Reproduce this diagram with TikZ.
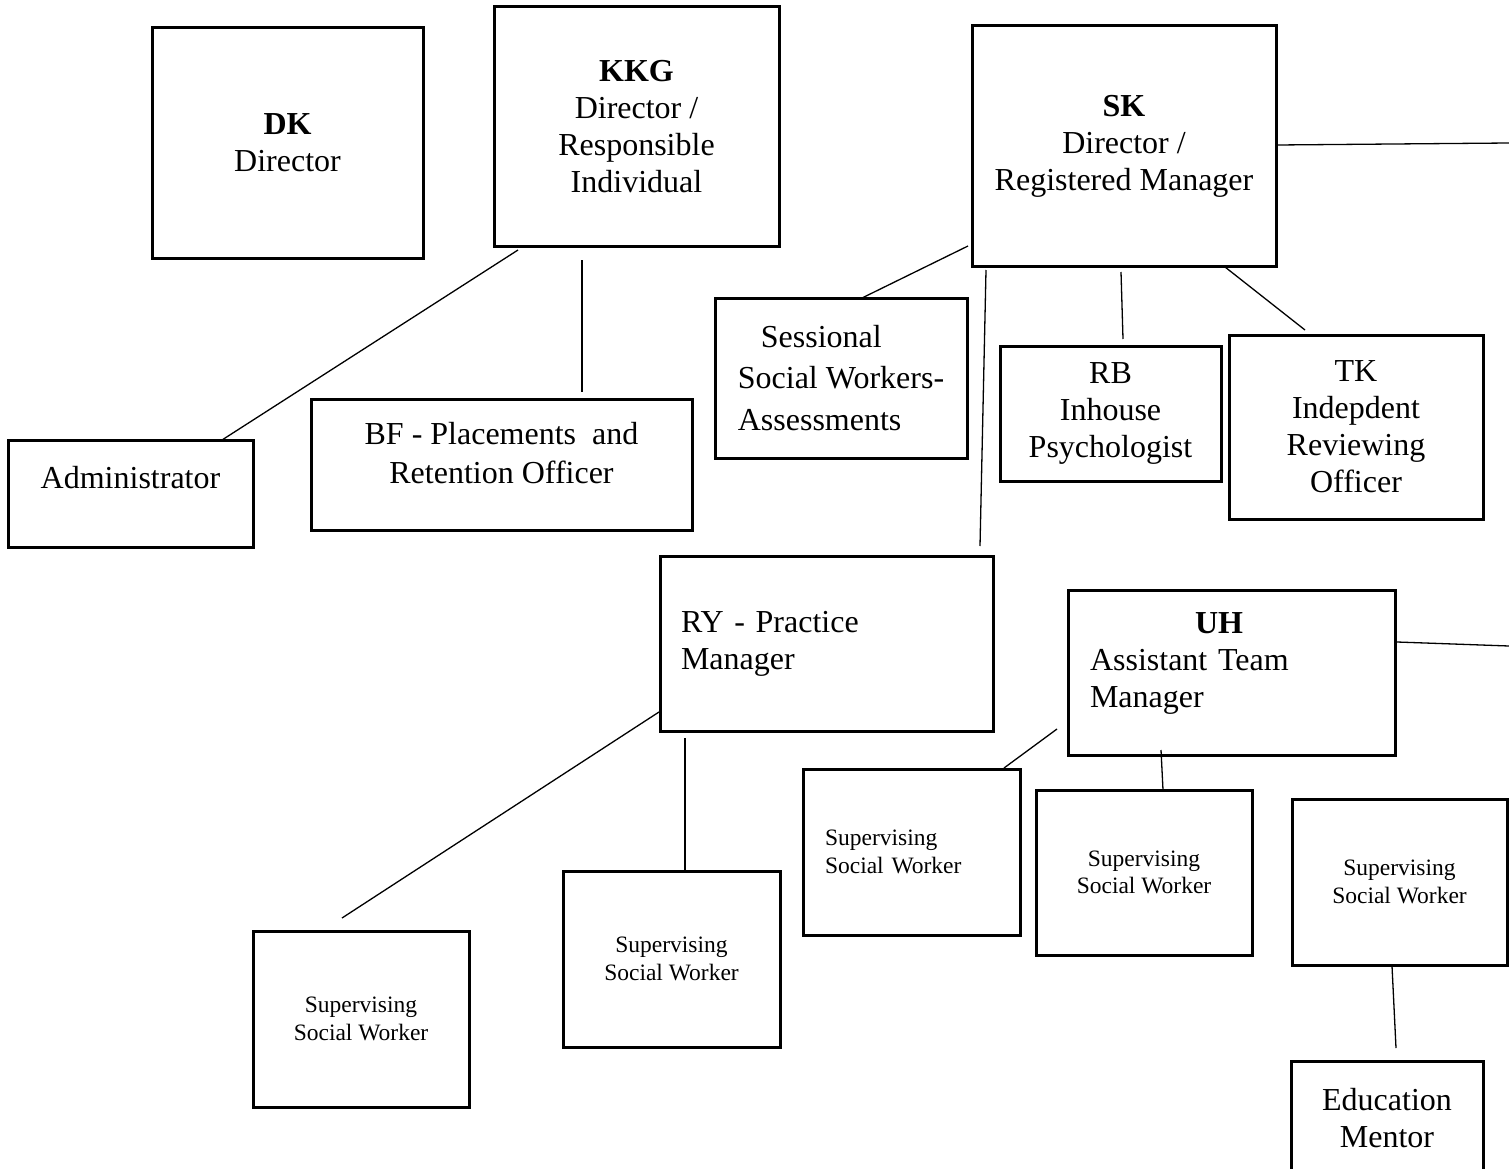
\documentclass[tikz,border=0pt]{standalone}
\usepackage{fontspec}
\setmainfont{Liberation Serif}
\tikzset{
  box/.style={draw=black, line width=3pt, inner sep=0pt, align=center,
    font=\fontsize{32}{37}\selectfont},
  smallbox/.style={box, font=\fontsize{23.5}{27.5}\selectfont},
  conn/.style={draw=black, line width=1.3pt}
}
\begin{document}
\begin{tikzpicture}[x=1pt,y=-1pt]
\clip (0,0) rectangle (1509,1169);
\fill[white] (0,0) rectangle (1509,1169);

% top row
\node[box, minimum width=271pt, minimum height=230pt] (dk) at (287.5,143) {\textbf{DK}\\Director};
\node[box, minimum width=285pt, minimum height=239pt] (kkg) at (636.5,126.5) {\textbf{KKG}\\Director /\\Responsible\\Individual};
\node[box, minimum width=304pt, minimum height=240pt] (sk) at (1124,146) {\textbf{SK}\\Director /\\Registered Manager};

% second row
\node[box, minimum width=245pt, minimum height=107pt, text depth=32pt] (adm) at (130.5,493.5) {Administrator};
\node[box, minimum width=381pt, minimum height=131pt, text depth=24pt,
      font=\fontsize{32}{39}\selectfont] (bf) at (501.5,464.5) {BF - Placements\ \ and\\Retention Officer};
\node[box, minimum width=252pt, minimum height=160pt, align=left,
      font=\fontsize{32}{41.5}\selectfont] (sess) at (841,378) {\hspace*{23pt}Sessional\\Social Workers-\\Assessments};
\node[box, minimum width=221pt, minimum height=135pt] (rb) at (1110.5,413.5) {RB\\Inhouse\\Psychologist};
\node[box, minimum width=254pt, minimum height=184pt] (tk) at (1356,427) {TK\\Indepdent\\Reviewing\\Officer};

% managers
\node[box, minimum height=175pt, inner xsep=21pt, text width=291pt, align=left] (ry) at (826.5,643.5) {RY - Practice\\Manager};
\node[box, minimum height=165pt, inner xsep=22pt, text width=283pt, align=left, text depth=99pt] (uh) at (1231.5,672.5) {\hspace*{105pt}\textbf{UH}\\Assistant Team\\Manager};

% supervising social workers
\node[smallbox, minimum width=216pt, minimum height=176pt] (s1) at (361,1019) {Supervising\\Social Worker};
\node[smallbox, minimum width=217pt, minimum height=176pt] (s2) at (671.5,959) {Supervising\\Social Worker};
\node[smallbox, minimum height=166pt, inner xsep=22pt, text width=173pt, align=left] (s3) at (911.5,852) {Supervising\\Social Worker};
\node[smallbox, minimum width=216pt, minimum height=165pt] (s4) at (1144,872.5) {Supervising\\Social Worker};
\node[smallbox, minimum width=215pt, minimum height=166pt] (s5) at (1399.5,882) {Supervising\\Social Worker};
\node[box, minimum width=192pt, minimum height=114pt] (edu) at (1387,1118) {Education\\Mentor};

% connector end points
\coordinate (kkg-a) at (518,250);   \coordinate (adm-a) at (222,440);
\coordinate (kkg-b) at (582,260);   \coordinate (bf-a)  at (582,392);
\coordinate (sk-a)  at (968,246);   \coordinate (sess-a) at (862,298);
\coordinate (sk-b)  at (1277,145);  \coordinate (sk-out) at (1509,143);
\coordinate (sk-c)  at (986,270);   \coordinate (ry-a)  at (980,546);
\coordinate (sk-d)  at (1121,272);  \coordinate (rb-a)  at (1123,339);
\coordinate (sk-e)  at (1225,267);  \coordinate (tk-a)  at (1305,330);
\coordinate (ry-b)  at (659,712);   \coordinate (s1-a)  at (342,918);
\coordinate (ry-c)  at (685,738);   \coordinate (s2-a)  at (685,870);
\coordinate (uh-a)  at (1397,642);  \coordinate (uh-out) at (1509,646);
\coordinate (uh-b)  at (1057,729);  \coordinate (s3-a)  at (1004,768);
\coordinate (uh-c)  at (1161,750);  \coordinate (s4-a)  at (1163,790);
\coordinate (s5-a)  at (1392,966);  \coordinate (edu-a) at (1396,1048);

\draw[conn] (kkg-a) -- (adm-a);
\draw[conn] (kkg-b) -- (bf-a);
\draw[conn] (sk-a) -- (sess-a);
\draw[conn] (sk-b) -- (sk-out);
\draw[conn] (sk-c) -- (ry-a);
\draw[conn] (sk-d) -- (rb-a);
\draw[conn] (sk-e) -- (tk-a);
\draw[conn] (ry-b) -- (s1-a);
\draw[conn] (ry-c) -- (s2-a);
\draw[conn] (uh-a) -- (uh-out);
\draw[conn] (uh-b) -- (s3-a);
\draw[conn] (uh-c) -- (s4-a);
\draw[conn] (s5-a) -- (edu-a);
\end{tikzpicture}
\end{document}
